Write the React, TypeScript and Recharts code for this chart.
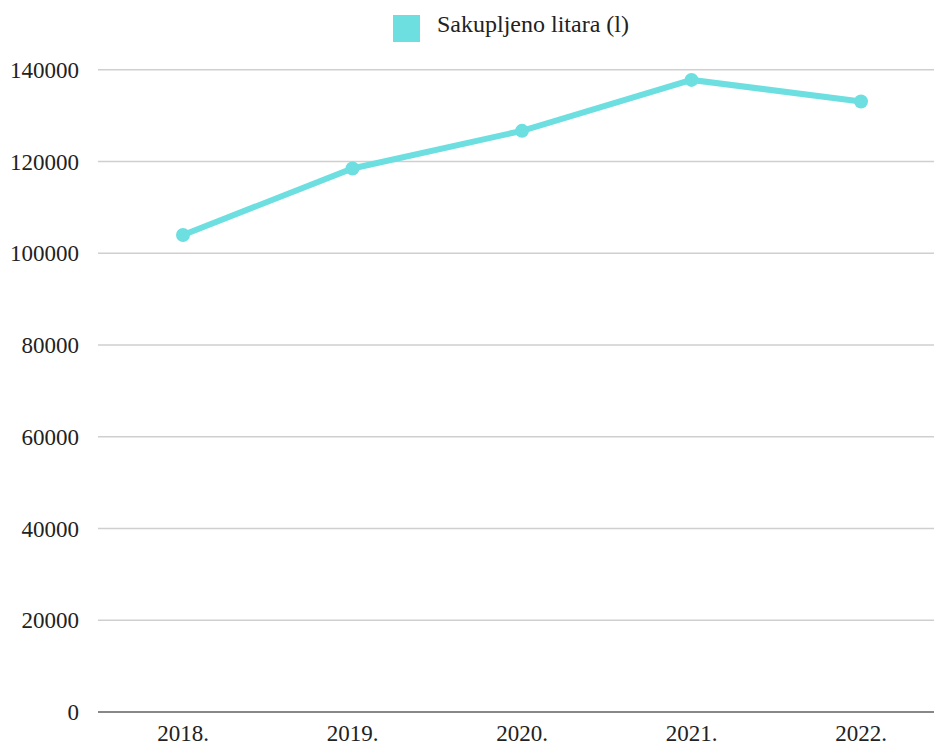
import { CartesianGrid, Legend, Line, LineChart, XAxis, YAxis } from 'recharts';

const years = ['2018.', '2019.', '2020.', '2021.', '2022.'];
const litres = [104000, 118500, 126700, 137800, 133100];
const yTicks = [0, 20000, 40000, 60000, 80000, 100000, 120000, 140000];

const data = years.map((year, i) => ({ year, litres: litres[i] }));

const font = '"Liberation Serif", "Times New Roman", serif';
const cyan = '#6ddfe0';

export default function App() {
  return (
    <div style={{ position: 'absolute', left: 0, top: 0, width: 934, height: 746, overflow: 'hidden', background: '#fff' }}>
      <LineChart width={946} height={746} data={data} margin={{ top: 39, right: 0, bottom: 4, left: 0 }} style={{ fontFamily: font }}>
        <CartesianGrid vertical={false} stroke="#cfcfcf" strokeWidth={1.5} />
        <XAxis
          dataKey="year"
          height={30}
          padding={{ left: 85, right: 85 }}
          tickLine={false}
          tickSize={0}
          tickMargin={13}
          stroke="#888"
          strokeWidth={2}
          tick={{ fill: '#222', fontSize: 23, fontFamily: font }}
        />
        <YAxis
          domain={[0, 140000]}
          ticks={yTicks}
          width={98}
          axisLine={false}
          tickLine={false}
          tickSize={0}
          tickMargin={19}
          tick={{ fill: '#222', fontSize: 23, fontFamily: font }}
        />
        <Legend
          verticalAlign="top"
          iconType="square"
          iconSize={27}
          wrapperStyle={{ left: 393, top: 11, width: 'auto' }}
          formatter={(value) => <span style={{ color: '#222', fontSize: 24, fontFamily: font, marginLeft: 13 }}>{value}</span>}
        />
        <Line
          type="linear"
          dataKey="litres"
          name="Sakupljeno litara (l)"
          stroke={cyan}
          strokeWidth={6}
          dot={{ r: 7, fill: cyan, stroke: cyan, strokeWidth: 0 }}
          activeDot={false}
          isAnimationActive={false}
        />
      </LineChart>
    </div>
  );
}
